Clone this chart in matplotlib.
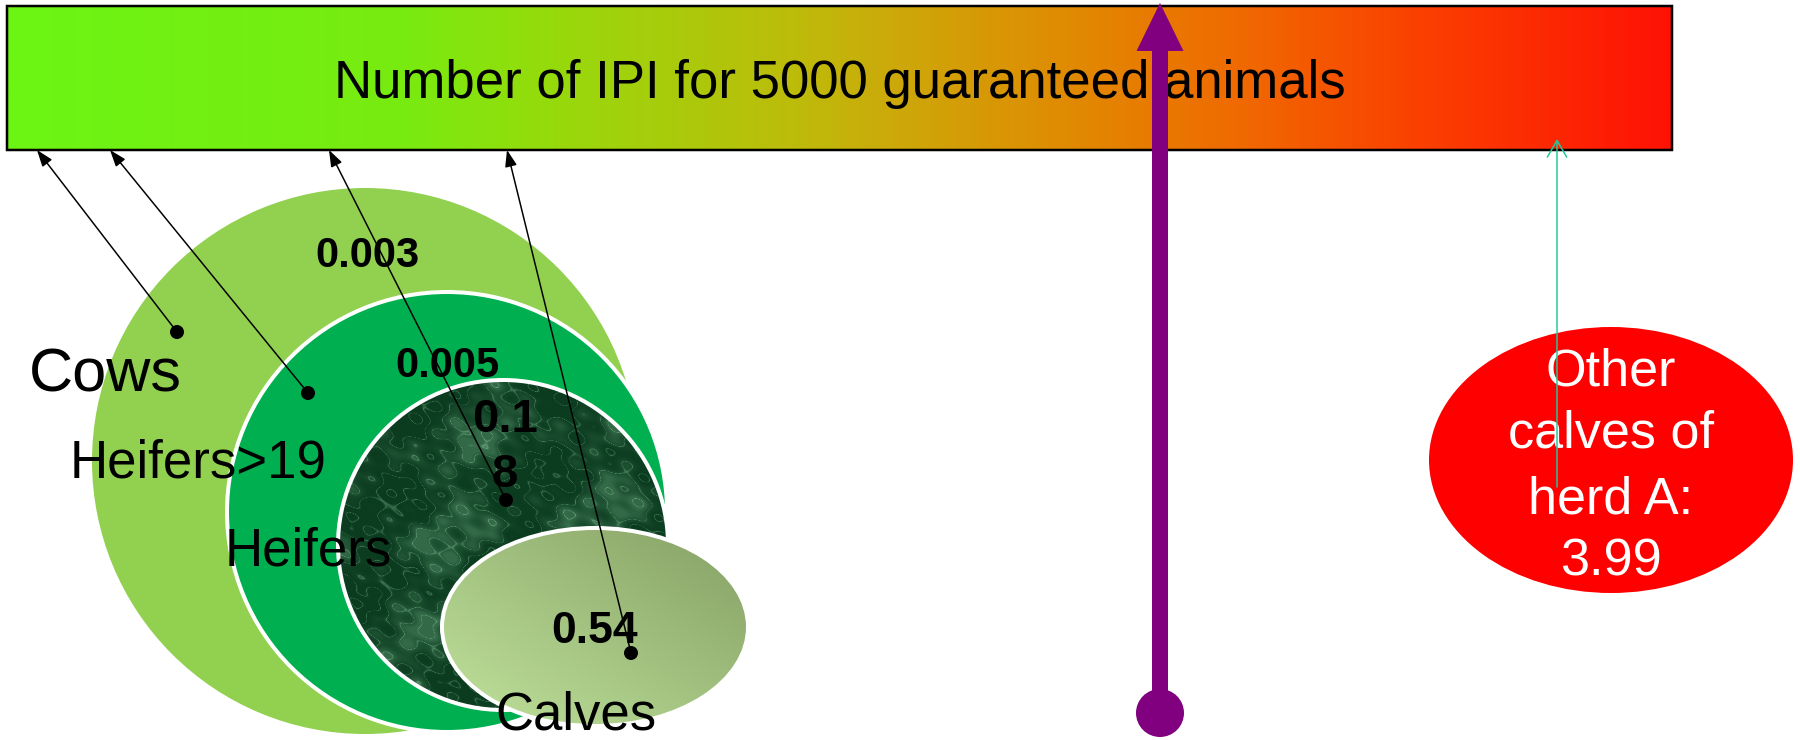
import matplotlib.pyplot as plt
import numpy as np
from matplotlib.colors import LinearSegmentedColormap
from matplotlib.patches import Circle, Ellipse, FancyArrow, FancyArrowPatch, Rectangle

# chart content
title = "Number of IPI for 5000 guaranteed animals"
groups = ["Cows", "Heifers>19", "Heifers", "Calves"]
group_values = ["0.003", "0.005", "0.18", "0.54"]
other_lines = ["Other", "calves of", "herd A:", "3.99"]

plt.rcParams['font.family'] = ['Liberation Sans', 'DejaVu Sans']
PX = 0.72  # points per pixel at dpi 100

fig = plt.figure(figsize=(18, 7.4), dpi=100)
ax = fig.add_axes([0, 0, 1, 1])
ax.set_xlim(0, 1800)
ax.set_ylim(740, 0)
ax.axis('off')

# --- header bar with green -> red gradient
bar_stops = [(0.0, '#6cf514'), (0.236, '#78eb10'), (0.308, '#91de0c'),
             (0.476, '#bebb0a'), (0.536, '#cda80a'), (0.640, '#e18a02'),
             (0.743, '#f06900'), (0.847, '#fa4100'), (1.0, '#ff1205')]
bar_cmap = LinearSegmentedColormap.from_list('bar', bar_stops)
ax.imshow(np.linspace(0, 1, 600)[None, :], cmap=bar_cmap, aspect='auto',
          extent=(7, 1672, 150, 6), zorder=1)
ax.add_patch(Rectangle((7, 6), 1665, 144, fc='none', ec='black',
                       lw=2.5 * PX, zorder=2))
ax.text(840, 98, title, fontsize=38, ha='center', va='baseline', zorder=3)

# --- nested herd shapes
ax.add_patch(Circle((365, 461), 273, fc='#92d050', ec='none', zorder=2))
ax.add_patch(Circle((447, 512), 220, fc='#00b050', ec='white',
                    lw=4 * PX, zorder=3))

# marble-like fill for the heifers circle (deterministic sine texture)
dark = Circle((503, 545), 165, fc='none', ec='white', lw=4 * PX, zorder=5)
ax.add_patch(dark)
yy, xx = np.mgrid[0:330, 0:330].astype(float)
n = np.zeros_like(xx)
for k, (f, th, ph) in enumerate([(0.045, 0.3, 1.0), (0.07, 1.4, 2.1),
                                  (0.11, 2.3, 0.4), (0.17, 0.9, 3.3),
                                  (0.26, 2.8, 1.7), (0.39, 1.9, 0.8)]):
    n += np.sin(f * (xx * np.cos(th) + yy * np.sin(th)) + ph) / (1 + 0.4 * k)
veins = (1 - np.abs(np.sin(0.035 * xx - 0.02 * yy + 2.2 * n))) ** 10
mottle = np.clip((n + 1.2) / 3.0, 0, 1) ** 2
streak = np.clip(0.55 * veins + 0.45 * mottle, 0, 1)
c_dark = np.array([12, 60, 32]) / 255
c_light = np.array([100, 160, 120]) / 255
tex = c_dark + streak[..., None] * (c_light - c_dark)
img = ax.imshow(tex, extent=(338, 668, 710, 380), zorder=4)
img.set_clip_path(dark)

calves = Ellipse((595, 627), 306, 198, fc='none', ec='white',
                 lw=4 * PX, zorder=7)
ax.add_patch(calves)
u = np.linspace(0, 1, 300)[None, :]
w = np.linspace(0, 1, 200)[:, None]
d = (u + (1 - w)) / 2
c_lo = np.array([192, 227, 156]) / 255
c_hi = np.array([133, 160, 100]) / 255
grad = c_lo + d[..., None] * (c_hi - c_lo)
gimg = ax.imshow(grad, extent=(442, 748, 726, 528), zorder=6)
gimg.set_clip_path(calves)

# --- labels
ax.text(29, 392, groups[0], fontsize=44, ha='left', va='baseline', zorder=8)
ax.text(70, 477, groups[1], fontsize=38, ha='left', va='baseline', zorder=8)
ax.text(225, 565, groups[2], fontsize=38, ha='left', va='baseline', zorder=8)
ax.text(495, 729, groups[3], fontsize=38, ha='left', va='baseline', zorder=8)

bold = dict(fontweight='bold', ha='center', va='baseline', zorder=8)
ax.text(367, 267, group_values[0], fontsize=30, **bold)
ax.text(447, 377, group_values[1], fontsize=30, **bold)
ax.text(505, 432, group_values[2][:3], fontsize=34, **bold)
ax.text(505, 487, group_values[2][3:], fontsize=34, **bold)
ax.text(595, 643, group_values[3], fontsize=32, **bold)

# leader arrows from each group to the bar
dots = [(177, 332), (308, 393), (506, 500), (631, 653)]
tips = [(37, 150), (110, 150), (329, 150), (507, 150)]
for (x0, y0), (x1, y1) in zip(dots, tips):
    ax.add_patch(FancyArrowPatch((x0, y0), (x1, y1),
                                 arrowstyle='-|>,head_length=0.5,head_width=0.18',
                                 mutation_scale=20, color='black', lw=1.5 * PX,
                                 shrinkA=0, shrinkB=0, zorder=9))
    ax.add_patch(Circle((x0, y0), 7, fc='black', ec='none', zorder=9))

# --- other calves of herd A
ax.add_patch(Ellipse((1611, 460), 364, 266, fc='#ff0000', ec='none', zorder=2))
for line, yb in zip(other_lines, [385, 448, 513, 575]):
    ax.text(1611, yb, line, fontsize=37.5, color='white', ha='center',
            va='baseline', zorder=3)
ax.add_patch(FancyArrowPatch((1557, 487), (1557, 139),
                             arrowstyle='->,head_length=0.6,head_width=0.35',
                             mutation_scale=20, color='#22c99a', lw=1.5 * PX,
                             shrinkA=0, shrinkB=0, zorder=4))

# --- purple arrow
ax.add_patch(FancyArrow(1160, 713, 0, -710, width=16, head_width=47,
                        head_length=48, length_includes_head=True,
                        fc='#800080', ec='none', zorder=10))
ax.add_patch(Circle((1160, 713), 24, fc='#800080', ec='none', zorder=10))

fig.savefig('out.png', dpi=100, facecolor='white')
